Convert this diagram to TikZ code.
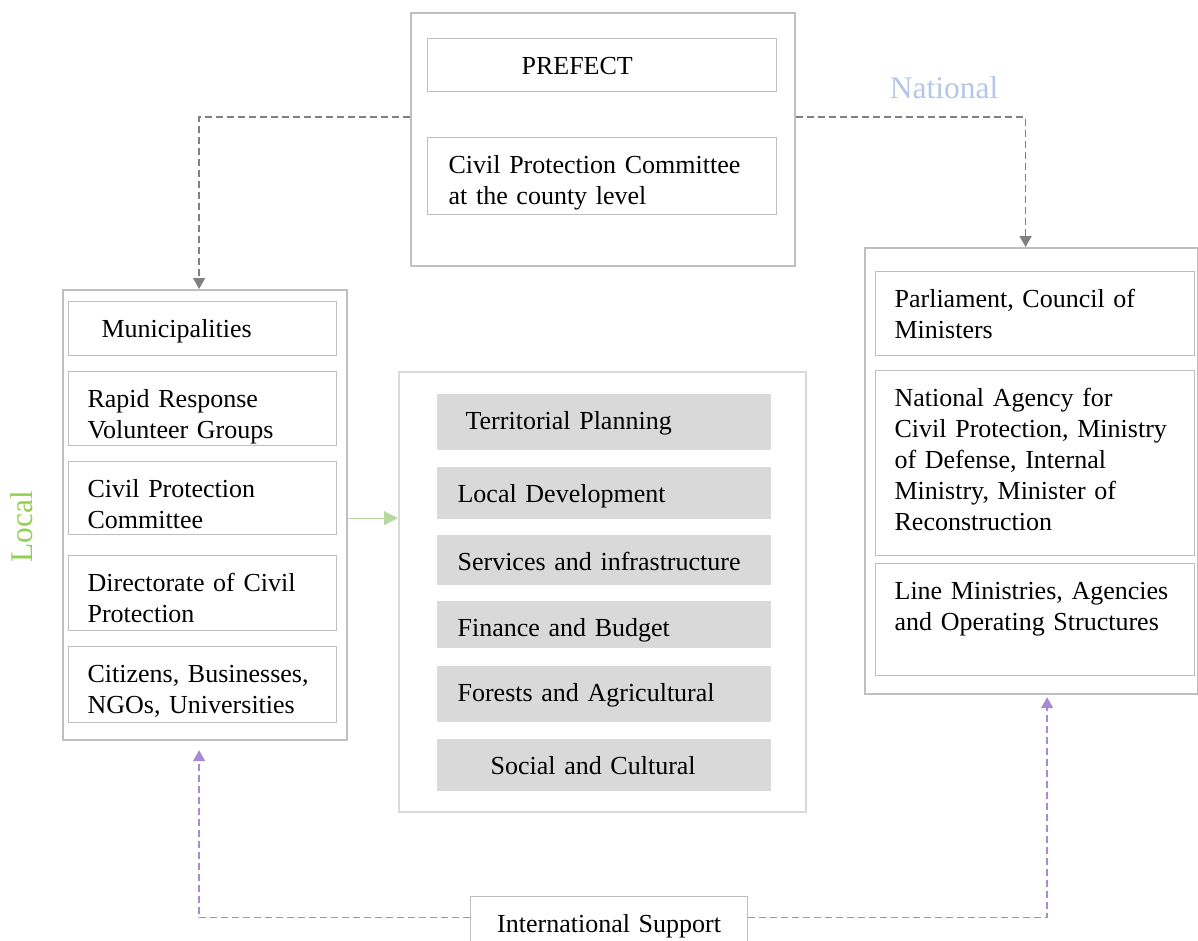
\documentclass[tikz,border=0pt]{standalone}
\usepackage{fontspec}
\setmainfont{Liberation Serif}
\usetikzlibrary{arrows.meta}

\definecolor{boxgray}{HTML}{BFBFBF}
\definecolor{lightgray}{HTML}{D9D9D9}
\definecolor{natblue}{HTML}{B4C7E7}
\definecolor{localgreen}{HTML}{92D050}
\definecolor{devgreen}{HTML}{B5D9A0}
\definecolor{intlpurple}{HTML}{A889D4}
\definecolor{arrowgray}{HTML}{808080}
\hyphenpenalty=10000

\begin{document}
\begin{tikzpicture}[x=1pt, y=-1pt,
	outer/.style={draw=boxgray, line width=2.2pt, anchor=north west, inner sep=0pt},
	item/.style={draw=boxgray, line width=1.2pt, anchor=north west, align=left, inner xsep=0pt, inner ysep=3pt, text height=33pt, font=\fontsize{26}{31}\selectfont},
	topic/.style={item, draw=none, fill=lightgray, minimum width=334},
	govarrow/.style={draw=arrowgray, line width=1.6pt, dash pattern=on 7pt off 4pt, -{Triangle[width=12pt, length=11pt]}},
	intlarrow/.style={draw=intlpurple, line width=1.6pt, dash pattern=on 7pt off 4pt, -{Triangle[width=12pt, length=11pt]}},
	devarrow/.style={draw=devgreen, line width=1pt, -{Triangle[width=14pt, length=14pt]}},
	level/.style={font=\fontsize{31.5}{36}\selectfont}]
	\useasboundingbox (0,0) rectangle (1198,940);

	% plate
	\node[outer, minimum width=384, minimum height=253] (county) at (410,12) {}; %
	\node[outer, minimum width=284, minimum height=450] (local) at (62,289) {}; %
	\node[outer, draw=lightgray, minimum width=407, minimum height=440] (middle) at (398,371) {}; %
	\node[outer, minimum width=333, minimum height=446] (nat) at (864,247) {}; %

	% nodes
	\node[item, minimum width=349, text depth=14pt, text width=161] (prefect) at (427,38) {PREFECT}; %
	\node[item, minimum width=349, text depth=38pt, text width=307] (cpcounty) at (427,137) {Civil Protection Committee\\at the county level}; %

	\node[item, minimum width=268, text depth=15pt, text width=202] (muni) at (68,301) {Municipalities}; %
	\node[item, minimum width=268, text depth=35pt, text width=230] (rapid) at (68,371) {Rapid Response\\Volunteer Groups}; %
	\node[item, minimum width=268, text depth=34pt, text width=230] (cpc) at (68,461) {Civil Protection\\Committee}; %
	\node[item, minimum width=268, text depth=36pt, text width=230] (direct) at (68,555) {Directorate of Civil\\Protection}; %
	\node[item, minimum width=268, text depth=37pt, text width=230] (citizens) at (68,646) {Citizens, Businesses,\\NGOs, Universities}; %

	\node[topic, text depth=17pt, text width=276] (planning) at (436,393) {Territorial Planning}; %
	\node[topic, text depth=13pt, text width=292] (develop) at (436,466) {Local Development}; %
	\node[topic, text depth=11pt, text width=292] (services) at (436,534) {Services and infrastructure}; %
	\node[topic, text depth=8pt, text width=292] (finance) at (436,600) {Finance and Budget}; %
	\node[topic, text depth=17pt, text width=292] (forests) at (436,665) {Forests and Agricultural}; %
	\node[topic, text depth=13pt, text width=226] (social) at (436,738) {Social and Cultural}; %

	\node[item, minimum width=319, text depth=45pt, text width=281] (parliament) at (875,271) {Parliament, Council of\\Ministers}; %
	\node[item, minimum width=319, text depth=146pt, text width=281] (agency) at (875,370) {National Agency for\\Civil Protection, Ministry\\of Defense, Internal\\Ministry, Minister of\\Reconstruction}; %
	\node[item, minimum width=319, text depth=73pt, text width=281] (linemin) at (875,563) {Line Ministries, Agencies\\and Operating Structures}; %

	\node[item, minimum width=277, text depth=24pt, text width=277, align=center] (intl) at (470,896) {International Support}; %

	\node[level, text=natblue] (national) at (944,88) {National}; %
	\node[level, text=localgreen, rotate=90] (locallbl) at (22,527) {Local}; %

	% edges
	\draw [govarrow] ([yshift=22.5pt]county.west) -| ([xshift=-6pt]local.north);
	\draw [govarrow] ([yshift=22.5pt]county.east) -| ([xshift=-6pt]nat.north);
	\draw [devarrow] ([yshift=-3pt]local.east) -- ([yshift=-3pt]local.east -| middle.west);
	\draw [intlarrow, shorten >=9pt] ([yshift=10.5pt]intl.west) -| ([xshift=-6pt]local.south);
	\draw [intlarrow, shorten >=2pt] ([yshift=10.5pt]intl.east) -| ([xshift=15.5pt]nat.south);
\end{tikzpicture}
\end{document}
